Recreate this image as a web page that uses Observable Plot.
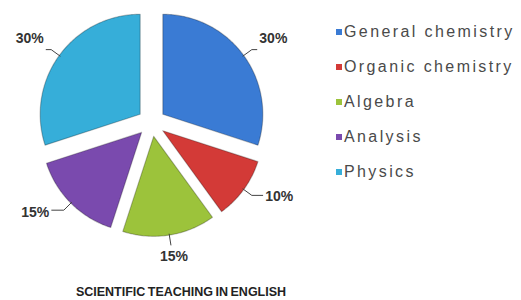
<!DOCTYPE html>
<html>
<head>
<meta charset="utf-8">
<script src="https://cdn.jsdelivr.net/npm/d3@7"></script>
<script src="https://cdn.jsdelivr.net/npm/@observablehq/plot@0.6"></script>
<style>
  html, body { margin: 0; padding: 0; background: #fff; }
  body { width: 521px; height: 300px; position: relative; overflow: hidden; font-family: "Liberation Sans", Arial, sans-serif; }
  #chart { position: absolute; left: 0; top: 0; }
  #legend { position: absolute; left: 336px; top: 14px; }
  .item { height: 35px; display: flex; align-items: center; font-size: 16px; letter-spacing: 2.4px; color: #4a4a4a; white-space: nowrap; }
  .swatch { width: 6px; height: 6px; margin-right: 2px; flex: none; }
  #title { position: absolute; left: 0; width: 362px; top: 285px; text-align: center; font-size: 12.5px; font-weight: bold; color: #222; letter-spacing: 0px; word-spacing: -1px; }
  g[aria-label="pct"] text { letter-spacing: 2.5px; }
</style>
</head>
<body>
<div id="chart"></div>
<div id="legend"></div>
<div id="title"></div>
<script>
// ---- data ----
const subjects = ["General chemistry", "Organic chemistry", "Algebra", "Analysis", "Physics"];
const shares = [30, 10, 15, 15, 30];
const colors = ["#3a7bd4", "#d33a37", "#9cc33b", "#7a4aae", "#36aed9"];
const chartTitle = "SCIENTIFIC TEACHING IN ENGLISH";

// ---- layout ----
const W = 521, H = 282;
const unit = 100;            // pixels per radius unit
const cx = 151, cy = 122;    // pie centre in pixels
const explode = 0.14;

// ---- build slice geometry from the data ----
const total = d3.sum(shares);
let acc = 0;
const slices = subjects.map((s, i) => {
  const a0 = acc / total * 2 * Math.PI;
  acc += shares[i];
  const a1 = acc / total * 2 * Math.PI;
  const mid = (a0 + a1) / 2;
  return {s, v: shares[i], a0, a1, mid, ox: explode * Math.sin(mid), oy: explode * Math.cos(mid)};
});

const slicePts = [];
for (const d of slices) {
  slicePts.push({s: d.s, x: d.ox, y: d.oy});
  const n = Math.max(8, Math.round((d.a1 - d.a0) * 60));
  for (let k = 0; k <= n; k++) {
    const t = d.a0 + (d.a1 - d.a0) * k / n;
    slicePts.push({s: d.s, x: d.ox + Math.sin(t), y: d.oy + Math.cos(t)});
  }
  slicePts.push({s: d.s, x: d.ox, y: d.oy});
}

// labels and leader lines
const labels = [], leaders = [];
for (const d of slices) {
  const sn = Math.sin(d.mid), cs = Math.cos(d.mid);
  const side = Math.abs(sn) < 0.35 ? 0 : Math.sign(sn);
  const A = {x: 1.13 * sn, y: 1.13 * cs};
  const B = {x: 1.24 * sn, y: 1.24 * cs};
  leaders.push({s: d.s, ...A}, {s: d.s, ...B});
  if (side !== 0) {
    const C = {x: B.x + side * (0.05 + Math.max(0, -cs) * 0.1), y: B.y};
    leaders.push({s: d.s, ...C});
    labels.push({s: d.s, side, x: C.x + side * 0.025, y: C.y + 0.05 + 0.11 * cs, text: d.v + "%"});
  } else {
    labels.push({s: d.s, side, x: B.x + 0.03, y: B.y - 0.06, text: d.v + "%"});
  }
}

const plot = Plot.plot({
  width: W,
  height: H,
  margin: 0,
  x: {domain: [-cx / unit, (W - cx) / unit], axis: null},
  y: {domain: [(cy - H) / unit, cy / unit], axis: null},
  color: {domain: subjects, range: colors},
  marks: [
    Plot.line(slicePts, {x: "x", y: "y", z: "s", fill: "s", stroke: "none", curve: "linear"}),
    Plot.line(slicePts, {x: "x", y: "y", z: "s", fill: "none", stroke: "#000", strokeOpacity: 0.25, strokeWidth: 1.2, curve: "linear"}),
    Plot.line(leaders, {x: "x", y: "y", z: "s", stroke: "#444", strokeWidth: 1, curve: "linear"}),
    Plot.text(labels.filter(d => d.side > 0), {x: "x", y: "y", text: "text", textAnchor: "start", fontSize: 14, fontWeight: "bold", fill: "#333", ariaLabel: "pct"}),
    Plot.text(labels.filter(d => d.side < 0), {x: "x", y: "y", text: "text", textAnchor: "end", fontSize: 14, fontWeight: "bold", fill: "#333", ariaLabel: "pct"}),
    Plot.text(labels.filter(d => d.side === 0), {x: "x", y: "y", text: "text", textAnchor: "middle", lineAnchor: "top", fontSize: 14, fontWeight: "bold", fill: "#333", ariaLabel: "pct"})
  ],
  style: {fontFamily: "'Liberation Sans', Arial, sans-serif", background: "#fff"}
});
document.getElementById("chart").appendChild(plot);

// legend
const legend = document.getElementById("legend");
subjects.forEach((s, i) => {
  const item = document.createElement("div");
  item.className = "item";
  const sw = document.createElement("span");
  sw.className = "swatch";
  sw.style.background = colors[i];
  const tx = document.createElement("span");
  tx.textContent = s;
  item.appendChild(sw);
  item.appendChild(tx);
  legend.appendChild(item);
});

document.getElementById("title").textContent = chartTitle;
</script>
</body>
</html>
